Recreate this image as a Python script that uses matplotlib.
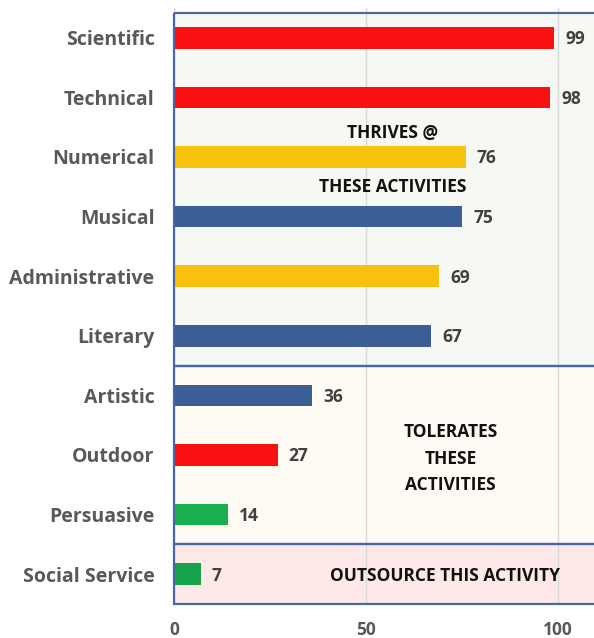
import matplotlib.pyplot as plt
from matplotlib.patches import Rectangle

plt.rcParams['font.family'] = ['Open Sans', 'DejaVu Sans']

# data
categories = ['Scientific', 'Technical', 'Numerical', 'Musical', 'Administrative',
              'Literary', 'Artistic', 'Outdoor', 'Persuasive', 'Social Service']
values = [99, 98, 76, 75, 69, 67, 36, 27, 14, 7]
bar_colors = ['#F91010', '#F91010', '#F7C10D', '#3B5E94', '#F7C10D',
              '#3B5E94', '#3B5E94', '#F91010', '#18B04F', '#16A24A']
xticks = [0, 50, 100]

# zones: (first row, last row, background)
zones = [
    (0, 5, '#F6F8F3'),
    (6, 8, '#FEFBF4'),
    (9, 9, '#FEE8E8'),
]
zone_text = [
    ('THRIVES @', 57, 1.6),
    ('THESE ACTIVITIES', 57, 2.5),
    ('TOLERATES', 72, 6.62),
    ('THESE', 72, 7.06),
    ('ACTIVITIES', 72, 7.5),
    ('OUTSOURCE THIS ACTIVITY', 70.5, 9.03),
]

fig = plt.figure(figsize=(5.94, 6.38), dpi=100)
ax = fig.add_axes([174 / 594, 34 / 638, 420 / 594, 596 / 638])

y = list(range(len(categories)))

# zone backgrounds + borders
for first, last, bg in zones:
    top = first - 0.5 if first > 0 else -0.42
    ax.add_patch(Rectangle((0, top), 130, last + 0.5 - top, facecolor=bg,
                           edgecolor='none', zorder=0.2))
    ax.add_patch(Rectangle((0, top), 130, last + 0.5 - top, facecolor='none',
                           edgecolor='#4A67A1', linewidth=1.6, zorder=3,
                           clip_on=False))

ax.barh(y, values, height=0.36, color=bar_colors, zorder=2)

for yi, v in zip(y, values):
    ax.annotate(str(v), (v, yi), xytext=(8, -1), textcoords='offset points',
                ha='left', va='center', fontsize=12.5, fontweight='bold',
                color='#404040')

for txt, tx, ty in zone_text:
    ax.text(tx, ty, txt, ha='center', va='center', fontsize=12.5,
            fontweight='bold', color='#111111', zorder=4)

ax.set_xlim(0, 109.4)
ax.set_ylim(9.5, -0.5)
ax.set_yticks(y)
ax.set_yticklabels(categories)
ax.set_xticks(xticks)
ax.tick_params(axis='y', length=0, pad=14, labelsize=14, labelcolor='#595959')
ax.tick_params(axis='x', length=0, pad=12, labelsize=12.5, labelcolor='#595959')
for lab in ax.get_yticklabels() + ax.get_xticklabels():
    lab.set_fontweight('bold')

ax.set_axisbelow(True)
ax.grid(axis='x', color='#D9D9D9', linewidth=1)
ax.grid(axis='y', visible=False)
for s in ax.spines.values():
    s.set_visible(False)

fig.savefig('out.png', dpi=100)
